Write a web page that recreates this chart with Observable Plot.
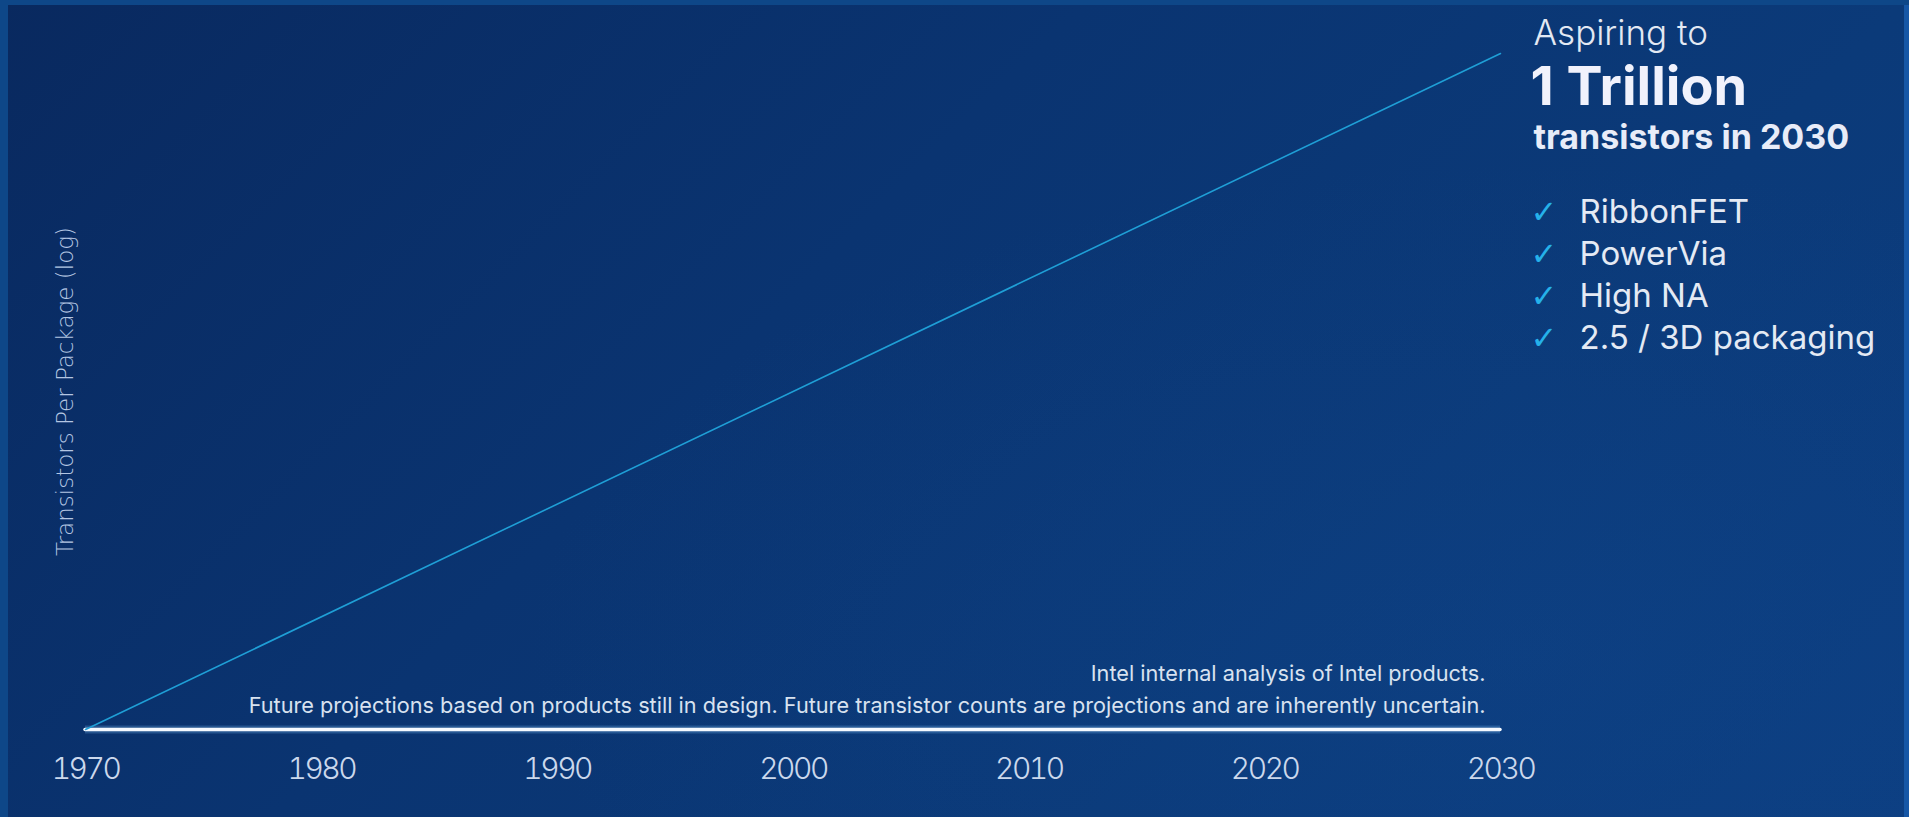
<!DOCTYPE html>
<html>
<head>
<meta charset="utf-8">
<title>Transistors per package</title>
<script src="https://cdn.jsdelivr.net/npm/d3@7"></script>
<script src="https://cdn.jsdelivr.net/npm/@observablehq/plot@0.6"></script>
<style>
  html, body { margin: 0; padding: 0; background: #0a3470; }
  #slide {
    position: relative;
    width: 1909px;
    height: 817px;
    overflow: hidden;
    background:
      radial-gradient(ellipse 70% 80% at 80% 80%, rgba(16, 70, 140, 0.35), rgba(16, 70, 140, 0) 75%),
      linear-gradient(135deg, #09295f 0%, #0a3471 40%, #0b3a79 70%, #0c3e81 100%);
    box-shadow: inset 8px 5px 0 #0e4788, inset -5px 0 0 #1657a6;
  }
  #slide svg { display: block; }
  /* condensed year labels */
  #slide g[aria-label="x-axis tick label"] text { letter-spacing: -2.5px; }
  #slide g[aria-label="headline tail"] text { letter-spacing: 0.6px; }
  #slide g[aria-label="y title"] text { letter-spacing: 0.2px; }
</style>
</head>
<body>
<div id="slide"></div>
<script>
// Trend of transistors per package, on a log scale
const years = [1970, 2030];
const transistors = [1e3, 1e12];
const tickYears = [1970, 1980, 1990, 2000, 2010, 2020, 2030];

const yAxisTitle = "Transistors Per Package (log)";
const headlineIntro = "Aspiring to";
const headlineValue = "1 Trillion";
const headlineTail = "transistors in 2030";
const technologies = ["RibbonFET", "PowerVia", "High NA", "2.5 / 3D packaging"];
const footnotes = [
  "Intel internal analysis of Intel products.",
  "Future projections based on products still in design. Future transistor counts are projections and are inherently uncertain."
];

const trend = years.map((year, i) => ({year, count: transistors[i]}));

const W = 1909, H = 817;
const margin = {left: 85, right: 409, top: 53, bottom: 88};
const frameRight = W - margin.right;   // x of 2030
const frameTop = margin.top;
const frameBottom = H - margin.bottom; // baseline of the chart

const font = "Inter, Lato, 'Open Sans', sans-serif";
const panelX = 1533;                   // left edge of the side panel
const rowGap = 42;                     // spacing of the checklist rows
const lastRowBaseline = 222 + (technologies.length - 1) * rowGap;
const checkSize = 32;

const chart = Plot.plot({
  width: W,
  height: H,
  marginLeft: margin.left,
  marginRight: margin.right,
  marginTop: margin.top,
  marginBottom: margin.bottom,
  style: {background: "transparent", fontFamily: font, overflow: "visible"},
  x: {domain: [years[0], years[1]]},
  y: {type: "log", domain: [transistors[0], transistors[1]], axis: null},
  marks: [
    // year labels under the baseline
    Plot.axisX({
      ticks: tickYears,
      tickFormat: "d",
      tickSize: 0,
      tickPadding: 28,
      fontSize: 30,
      fontWeight: 300,
      fill: "#cbd8ec",
      label: null
    }),
    // glowing white baseline
    Plot.ruleY([transistors[0]], {x1: years[0], x2: years[1], stroke: "#79bdf5", strokeWidth: 8, strokeOpacity: 0.25}),
    Plot.ruleY([transistors[0]], {x1: years[0], x2: years[1], stroke: "#f5f9ff", strokeWidth: 3.5, strokeLinecap: "round"}),
    // trend line
    Plot.line(trend, {x: "year", y: "count", stroke: "#1f9fd6", strokeWidth: 1.6}),
    // vertical axis title
    Plot.text([yAxisTitle], {
      ariaLabel: "y title",
      frameAnchor: "left", rotate: -90, dx: -20,
      fontFamily: "'DejaVu Sans', sans-serif", fontWeight: 200, fontSize: 23,
      fill: "#b4c6e2", textAnchor: "middle"
    }),
    // footnotes above the baseline, right-aligned
    Plot.text([footnotes.join("\n")], {
      ariaLabel: "footnotes",
      frameAnchor: "bottom-right", dx: -15, dy: -(frameBottom - 712),
      textAnchor: "end", lineAnchor: "bottom", lineHeight: 32 / 21.7,
      fontSize: 21.7, fontWeight: 400, fill: "#d8e2f0"
    }),
    // side panel headline
    Plot.text([headlineIntro], {
      ariaLabel: "headline intro",
      frameAnchor: "top-right", dx: panelX - frameRight, dy: 44 - frameTop,
      textAnchor: "start", lineAnchor: "bottom",
      fontSize: 35, fontWeight: 300, fill: "#e3e9f3"
    }),
    Plot.text([headlineValue], {
      ariaLabel: "headline value",
      frameAnchor: "top-right", dx: panelX - 3 - frameRight, dy: 104 - frameTop,
      textAnchor: "start", lineAnchor: "bottom",
      fontSize: 54, fontWeight: 700, fill: "#f1f2fc"
    }),
    Plot.text([headlineTail], {
      ariaLabel: "headline tail",
      frameAnchor: "top-right", dx: panelX - frameRight, dy: 148 - frameTop,
      textAnchor: "start", lineAnchor: "bottom",
      fontSize: 34, fontWeight: 700, fill: "#e8ecf8"
    }),
    // checklist of technologies
    Plot.text([technologies.map(() => "✓").join("\n")], {
      ariaLabel: "checks",
      frameAnchor: "top-right", dx: 1530 - frameRight, dy: lastRowBaseline - frameTop,
      textAnchor: "start", lineAnchor: "bottom",
      fontFamily: "'DejaVu Sans', sans-serif", fontSize: checkSize, lineHeight: rowGap / checkSize,
      fill: "#25b1ea"
    }),
    Plot.text([technologies.join("\n")], {
      ariaLabel: "technologies",
      frameAnchor: "top-right", dx: 1579 - frameRight, dy: lastRowBaseline - frameTop,
      textAnchor: "start", lineAnchor: "bottom",
      fontSize: 33, fontWeight: 400, fill: "#e4eaf4", lineHeight: rowGap / 33
    })
  ]
});

document.getElementById("slide").appendChild(chart);
</script>
</body>
</html>
